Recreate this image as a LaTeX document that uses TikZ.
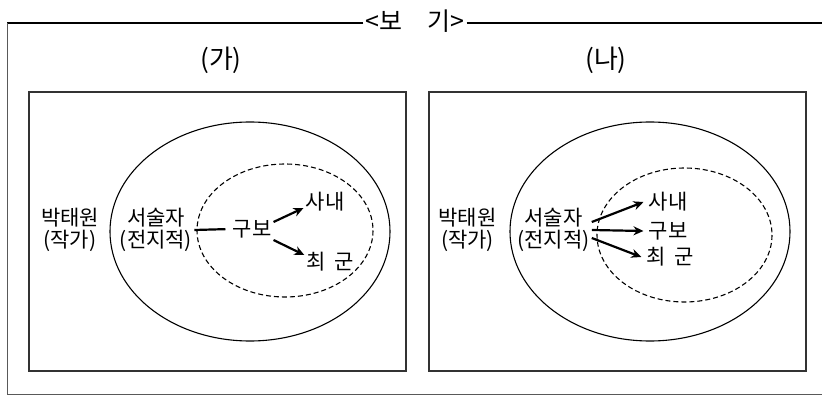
\documentclass[tikz,border=0pt]{standalone}
\usepackage{fontspec}
\setmainfont{Noto Sans CJK KR}
\usetikzlibrary{arrows.meta,positioning}

\tikzset{
  panel/.style={draw=black!80,line width=1.6pt},
  outerring/.style={draw=black,line width=1.1pt},
  innerring/.style={draw=black,line width=1.1pt,dash pattern=on 5pt off 3pt},
  lbl/.style={align=center,inner sep=2pt},
  link/.style={line width=2.2pt},
  linkarrow/.style={line width=2.2pt,-{Stealth[length=10pt,width=9pt]}},
}

\begin{document}
\begin{tikzpicture}[x=1pt,y=-1pt,every node/.style={font=\fontsize{21}{21.5}\selectfont}]
\useasboundingbox (0,0) rectangle (822,395);
% frame with title
\node[inner sep=2pt,font=\fontsize{25}{26}\selectfont] (bogi) at (415,21) {<보\hspace{1em}기>};
\coordinate (ftl) at (7,23);
\coordinate (fbl) at (7,394);
\coordinate (fbr) at (826,394);
\coordinate (ftr) at (826,23);
\draw[line width=1.2pt] (bogi.west |- ftl) -- (ftl);
\draw[line width=1.2pt] (bogi.east |- ftr) -- (ftr);
\draw[black!65,line width=1pt] (ftl) -- (fbl) -- (fbr);
% panels
\draw[panel] (29,92) rectangle (406,371);
\draw[panel] (429,92) rectangle (806,371);
\node[font=\fontsize{26}{28}\selectfont] (ga) at (221,60) {(가)};
\node[font=\fontsize{26}{28}\selectfont] (na) at (606,60) {(나)};
% (ga)
\draw[outerring] (250,231.5) ellipse [x radius=140,y radius=109.5];
\draw[innerring] (285,230.5) ellipse [x radius=88,y radius=66.5];
\node[lbl] (park) at (70,230) {박태원\\(작가)};
\node[lbl] (narr) at (156,230) {서술자\\(전지적)};
\node[lbl] (gubo) at (252,229) {구보};
\node[lbl] (sanae) at (325,202) {사내};
\node[lbl] (choi) at (330,262) {최\hspace{0.4em}군};
\draw[link,shorten >=5pt] (narr.east) -- (gubo.west);
\draw[linkarrow] ([yshift=7pt]gubo.east) -- ([yshift=-6pt]sanae.west);
\draw[linkarrow] ([yshift=-11pt]gubo.east) -- ([yshift=7pt]choi.west);
% (na)
\draw[outerring] (650,231.5) ellipse [x radius=140,y radius=109.5];
\draw[innerring] (684.5,235) ellipse [x radius=87.5,y radius=67];
\node[lbl] (park2) at (467.5,230) {박태원\\(작가)};
\node[lbl] (narr2) at (553.5,230) {서술자\\(전지적)};
\node[lbl] (sanae2) at (668,202) {사내};
\node[lbl] (gubo2) at (668,231) {구보};
\node[lbl] (choi2) at (670,257) {최\hspace{0.4em}군};
\draw[linkarrow] ([yshift=8pt]narr2.east) -- ([xshift=-3pt]sanae2.west);
\draw[linkarrow] (narr2.east) -- ([xshift=-3pt]gubo2.west);
\draw[linkarrow] ([yshift=-8pt]narr2.east) -- ([xshift=-3pt]choi2.west);
\end{tikzpicture}
\end{document}
